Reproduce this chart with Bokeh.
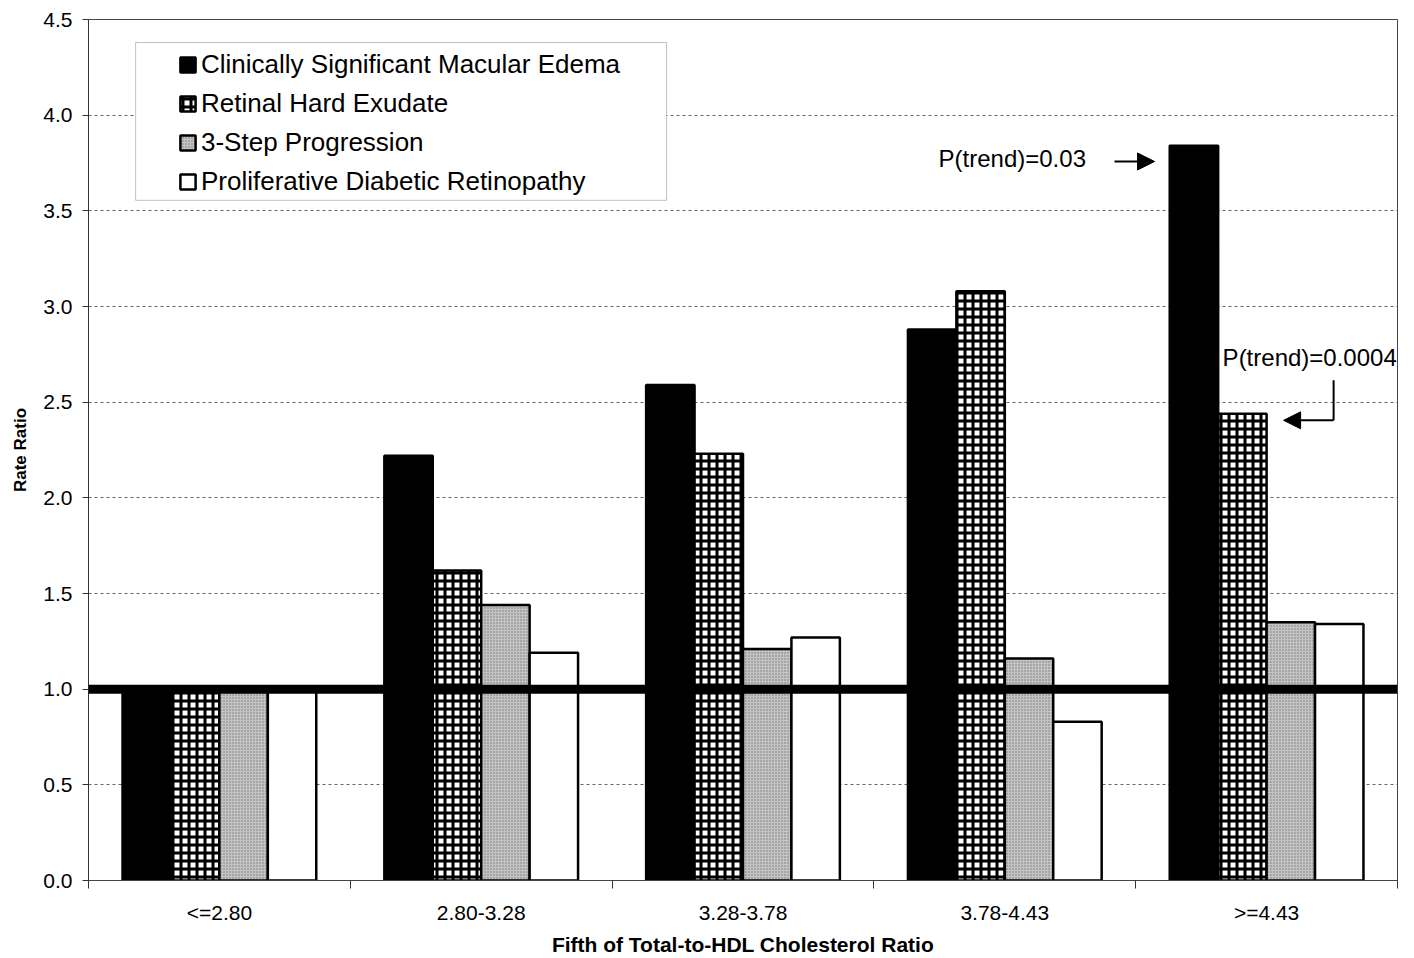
import numpy as np
from bokeh.plotting import figure
from bokeh.models import (Range1d, FixedTicker, Span, Label, Arrow, NormalHead,
                          BoxAnnotation, Legend, LegendItem, NumeralTickFormatter)
from bokeh.embed import file_html
from bokeh.resources import INLINE

# ---- data ----
categories = ["<=2.80", "2.80-3.28", "3.28-3.78", "3.78-4.43", ">=4.43"]
series_names = ["Clinically Significant Macular Edema", "Retinal Hard Exudate",
                "3-Step Progression", "Proliferative Diabetic Retinopathy"]
csme = [1.0, 2.22, 2.59, 2.88, 3.84]
hard_exudate = [1.0, 1.62, 2.23, 3.08, 2.44]
three_step = [1.0, 1.44, 1.21, 1.16, 1.35]
pdr = [1.0, 1.19, 1.27, 0.83, 1.34]
y_ticks = [0.0, 0.5, 1.0, 1.5, 2.0, 2.5, 3.0, 3.5, 4.0, 4.5]
reference_value = 1.0
annot_1 = "P(trend)=0.03"
annot_2 = "P(trend)=0.0004"

FONT = "Liberation Sans"

p = figure(width=1414, height=958, output_backend="svg", toolbar_location=None,
           x_range=Range1d(0, len(categories)), y_range=Range1d(0, 4.5),
           min_border_left=88, min_border_top=19, min_border_right=17, min_border_bottom=78)
p.background_fill_color = "white"
p.border_fill_color = "white"
p.outline_line_color = "#444444"
p.outline_line_width = 1

centers = np.arange(len(categories)) + 0.5
bw = 0.185
offsets = [-1.5 * bw, -0.5 * bw, 0.5 * bw, 1.5 * bw]

common = dict(width=bw, line_color="black", line_width=2.5)
r1 = p.vbar(x=centers + offsets[0], top=csme, fill_color="black", **common)
r2 = p.vbar(x=centers + offsets[1], top=hard_exudate, fill_color="white",
            hatch_pattern="+", hatch_scale=8, hatch_weight=3, hatch_color="black", **common)
r3 = p.vbar(x=centers + offsets[2], top=three_step, fill_color="#c4c4c4",
            hatch_pattern="dot", hatch_scale=3, hatch_weight=1.3, hatch_color="#757575", **common)
r4 = p.vbar(x=centers + offsets[3], top=pdr, fill_color="white", **common)

# reference line
p.add_layout(Span(location=reference_value, dimension="width", line_color="black", line_width=9))

# axes
p.xaxis.ticker = FixedTicker(ticks=list(centers), minor_ticks=list(np.arange(len(categories) + 1)))
p.xaxis.major_label_overrides = {float(c): lab for c, lab in zip(centers, categories)}
p.xaxis.major_tick_line_color = None
p.xaxis.major_tick_out = 0
p.xaxis.minor_tick_line_color = "#333333"
p.xaxis.minor_tick_out = 8
p.xaxis.minor_tick_in = 0
p.xaxis.major_label_standoff = 12
p.xaxis.axis_label = "Fifth of Total-to-HDL Cholesterol Ratio"
p.xaxis.axis_label_standoff = 6
p.xaxis.axis_line_color = "#444444"

p.yaxis.ticker = FixedTicker(ticks=y_ticks, minor_ticks=[])
p.yaxis.formatter = NumeralTickFormatter(format="0.0")
p.yaxis.major_tick_out = 6
p.yaxis.major_tick_in = 0
p.yaxis.major_tick_line_color = "#333333"
p.yaxis.major_label_standoff = 10
p.yaxis.axis_label = "Rate Ratio"
p.yaxis.axis_label_standoff = 10
p.yaxis.axis_line_color = "#333333"

for ax in (p.xaxis, p.yaxis):
    ax.major_label_text_font = FONT
    ax.major_label_text_font_size = "21px"
    ax.major_label_text_color = "black"
    ax.axis_label_text_font = FONT
    ax.axis_label_text_font_style = "bold"
    ax.axis_label_text_color = "black"
p.xaxis.axis_label_text_font_size = "21px"
p.yaxis.axis_label_text_font_size = "17px"

p.xgrid.grid_line_color = None
p.ygrid.grid_line_color = "#666666"
p.ygrid.grid_line_width = 1
p.ygrid.grid_line_dash = "3 3"

# legend box + legend
p.add_layout(BoxAnnotation(left=0.18, right=2.208, top=4.38, bottom=3.555,
                           fill_color="white", fill_alpha=1.0,
                           line_color="#333333", line_width=1))
legend = Legend(items=[LegendItem(label=n, renderers=[r]) for n, r in zip(series_names, [r1, r2, r3, r4])],
                location=(90, 683), padding=0, spacing=8, glyph_width=19, glyph_height=19,
                label_standoff=4, border_line_color=None, background_fill_alpha=0,
                label_text_font=FONT, label_text_font_size="26px", label_text_color="black",
                margin=0)
p.add_layout(legend, "center")

# annotations
p.add_layout(Label(x=3.247, y=3.774, text=annot_1, text_font=FONT, text_font_size="24px",
                   text_baseline="middle", text_color="black"))
p.add_layout(Arrow(end=NormalHead(size=17, fill_color="black", line_color="black"),
                   x_start=3.919, y_start=3.758, x_end=4.072, y_end=3.758,
                   line_color="black", line_width=2))
p.add_layout(Label(x=4.332, y=2.734, text=annot_2, text_font=FONT, text_font_size="24px",
                   text_baseline="middle", text_color="black"))
p.add_layout(Arrow(end=None, x_start=4.756, y_start=2.614, x_end=4.756, y_end=2.405,
                   line_color="black", line_width=2))
p.add_layout(Arrow(end=NormalHead(size=17, fill_color="black", line_color="black"),
                   x_start=4.756, y_start=2.405, x_end=4.565, y_end=2.405,
                   line_color="black", line_width=2))

open("out.html", "w").write(file_html(p, INLINE))
